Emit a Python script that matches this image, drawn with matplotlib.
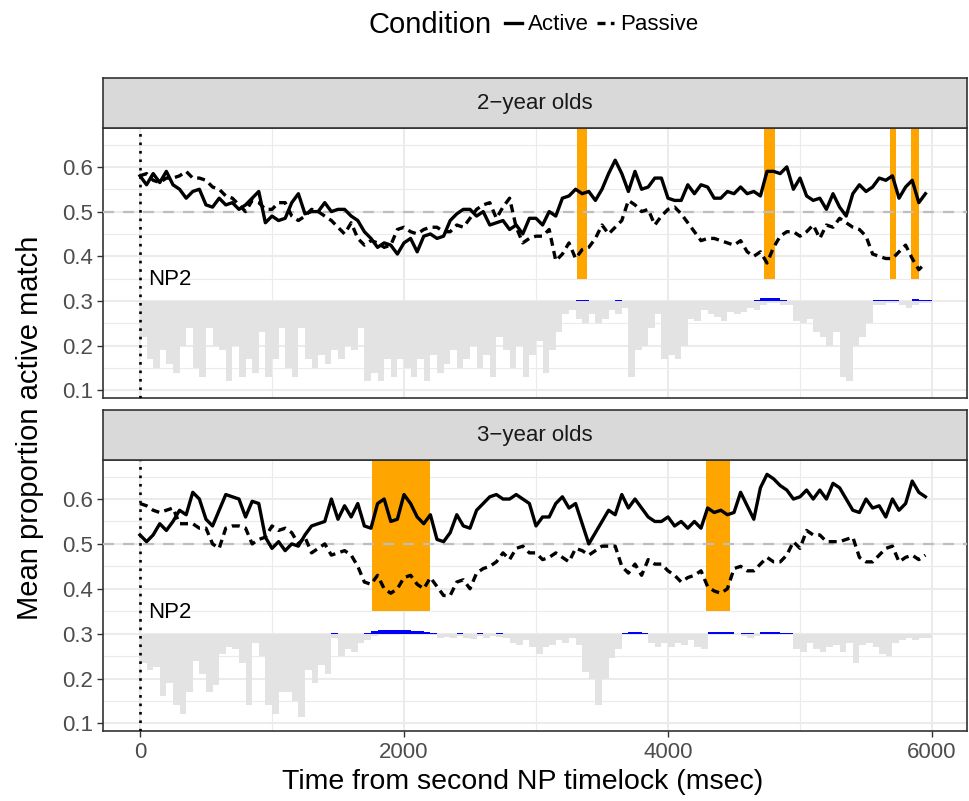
import numpy as np
import matplotlib.pyplot as plt
from matplotlib.lines import Line2D

plt.rcParams['font.family'] = ['Liberation Sans', 'DejaVu Sans']

# time bins (msec), one value every 50 ms
times = np.arange(0, 6000, 50)

# 2-year olds
active2 = [0.58, 0.56, 0.585, 0.565, 0.59, 0.56, 0.55, 0.53, 0.545, 0.55,
           0.515, 0.51, 0.53, 0.515, 0.52, 0.505, 0.515, 0.53, 0.545, 0.475,
           0.49, 0.48, 0.485, 0.52, 0.54, 0.495, 0.5, 0.5, 0.52, 0.5,
           0.505, 0.505, 0.49, 0.48, 0.455, 0.44, 0.42, 0.43, 0.425, 0.405,
           0.43, 0.44, 0.41, 0.445, 0.45, 0.44, 0.445, 0.48, 0.495, 0.505,
           0.505, 0.49, 0.5, 0.47, 0.475, 0.48, 0.46, 0.47, 0.45, 0.485,
           0.485, 0.47, 0.5, 0.49, 0.53, 0.535, 0.55, 0.54, 0.545, 0.525,
           0.55, 0.585, 0.615, 0.585, 0.545, 0.59, 0.55, 0.555, 0.575, 0.575,
           0.53, 0.525, 0.525, 0.56, 0.54, 0.56, 0.555, 0.53, 0.53, 0.545,
           0.54, 0.555, 0.54, 0.545, 0.535, 0.59, 0.59, 0.585, 0.6, 0.55,
           0.575, 0.535, 0.525, 0.53, 0.505, 0.54, 0.51, 0.49, 0.54, 0.56,
           0.545, 0.555, 0.575, 0.57, 0.58, 0.53, 0.555, 0.57, 0.52, 0.54]
passive2 = [0.58, 0.585, 0.57, 0.565, 0.575, 0.575, 0.58, 0.59, 0.575, 0.575,
            0.57, 0.555, 0.55, 0.535, 0.53, 0.515, 0.5, 0.525, 0.52, 0.505,
            0.505, 0.52, 0.52, 0.49, 0.48, 0.49, 0.505, 0.5, 0.49, 0.48,
            0.465, 0.45, 0.475, 0.44, 0.425, 0.435, 0.43, 0.42, 0.425, 0.46,
            0.465, 0.455, 0.45, 0.46, 0.465, 0.465, 0.455, 0.455, 0.47, 0.465,
            0.485, 0.505, 0.515, 0.52, 0.485, 0.51, 0.53, 0.465, 0.43, 0.44,
            0.445, 0.445, 0.46, 0.39, 0.405, 0.43, 0.395, 0.415, 0.42, 0.44,
            0.47, 0.45, 0.465, 0.48, 0.525, 0.515, 0.5, 0.505, 0.47, 0.49,
            0.505, 0.51, 0.495, 0.475, 0.455, 0.435, 0.44, 0.44, 0.435, 0.43,
            0.425, 0.435, 0.41, 0.4, 0.41, 0.385, 0.42, 0.445, 0.455, 0.455,
            0.445, 0.455, 0.47, 0.44, 0.47, 0.465, 0.485, 0.475, 0.465, 0.46,
            0.445, 0.405, 0.4, 0.395, 0.395, 0.41, 0.425, 0.395, 0.37, 0.385]
gray2 = [0.22, 0.17, 0.15, 0.19, 0.16, 0.14, 0.2, 0.24, 0.15, 0.13,
         0.24, 0.2, 0.19, 0.12, 0.2, 0.13, 0.17, 0.14, 0.23, 0.13,
         0.17, 0.24, 0.15, 0.13, 0.24, 0.17, 0.15, 0.18, 0.16, 0.19,
         0.17, 0.2, 0.19, 0.24, 0.12, 0.14, 0.12, 0.17, 0.13, 0.17,
         0.15, 0.13, 0.17, 0.12, 0.18, 0.14, 0.16, 0.19, 0.15, 0.17,
         0.2, 0.15, 0.18, 0.13, 0.22, 0.19, 0.15, 0.2, 0.13, 0.18,
         0.21, 0.14, 0.19, 0.23, 0.27, 0.28, 0.26, 0.25, 0.27, 0.25,
         0.26, 0.28, 0.27, 0.285, 0.13, 0.19, 0.2, 0.24, 0.27, 0.17,
         0.18, 0.17, 0.2, 0.26, 0.255, 0.28, 0.27, 0.265, 0.255, 0.275,
         0.27, 0.275, 0.285, 0.28, 0.29, 0.295, 0.295, 0.29, 0.29, 0.255,
         0.25, 0.26, 0.23, 0.22, 0.2, 0.23, 0.13, 0.12, 0.2, 0.22,
         0.25, 0.29, 0.29, 0.295, 0.295, 0.29, 0.285, 0.29, 0.295, 0.295]
blue2_t = [3300, 3350, 3600, 4650, 4700, 4750, 4800, 4850, 5550, 5600, 5650, 5700, 5850, 5900, 5950]
blue2_h = [0.003, 0.002, 0.003, 0.002, 0.006, 0.007, 0.007, 0.002, 0.002, 0.003, 0.003, 0.002, 0.004, 0.003, 0.002]
orange2 = [(3311, 3386), (4727, 4811), (5682, 5727), (5841, 5902)]

# 3-year olds
active3 = [0.52, 0.505, 0.52, 0.545, 0.53, 0.55, 0.575, 0.565, 0.615, 0.6,
           0.555, 0.54, 0.575, 0.61, 0.605, 0.6, 0.56, 0.595, 0.59, 0.515,
           0.49, 0.505, 0.485, 0.5, 0.495, 0.52, 0.54, 0.545, 0.55, 0.6,
           0.555, 0.585, 0.56, 0.59, 0.54, 0.535, 0.59, 0.6, 0.55, 0.555,
           0.61, 0.59, 0.56, 0.545, 0.565, 0.51, 0.505, 0.525, 0.565, 0.54,
           0.535, 0.575, 0.59, 0.605, 0.61, 0.6, 0.6, 0.61, 0.6, 0.59,
           0.54, 0.56, 0.56, 0.59, 0.605, 0.58, 0.59, 0.545, 0.5, 0.525,
           0.55, 0.575, 0.565, 0.61, 0.58, 0.6, 0.58, 0.56, 0.55, 0.55,
           0.56, 0.54, 0.55, 0.535, 0.55, 0.535, 0.58, 0.57, 0.575, 0.565,
           0.57, 0.615, 0.585, 0.555, 0.625, 0.655, 0.645, 0.63, 0.62, 0.6,
           0.605, 0.62, 0.6, 0.62, 0.6, 0.635, 0.625, 0.6, 0.575, 0.57,
           0.6, 0.58, 0.585, 0.56, 0.6, 0.575, 0.59, 0.64, 0.615, 0.605]
passive3 = [0.59, 0.585, 0.575, 0.57, 0.575, 0.58, 0.545, 0.545, 0.545, 0.535,
            0.535, 0.5, 0.49, 0.535, 0.54, 0.54, 0.535, 0.5, 0.51, 0.515,
            0.54, 0.53, 0.535, 0.525, 0.5, 0.515, 0.48, 0.49, 0.5, 0.475,
            0.48, 0.485, 0.475, 0.45, 0.415, 0.41, 0.43, 0.4, 0.39, 0.4,
            0.425, 0.43, 0.41, 0.4, 0.425, 0.405, 0.385, 0.385, 0.415, 0.42,
            0.4, 0.435, 0.445, 0.45, 0.46, 0.48, 0.465, 0.49, 0.495, 0.48,
            0.48, 0.465, 0.47, 0.48, 0.47, 0.46, 0.49, 0.485, 0.475, 0.485,
            0.495, 0.495, 0.495, 0.45, 0.435, 0.455, 0.43, 0.465, 0.455, 0.455,
            0.44, 0.43, 0.415, 0.425, 0.43, 0.44, 0.405, 0.395, 0.39, 0.4,
            0.445, 0.45, 0.44, 0.44, 0.455, 0.47, 0.46, 0.46, 0.475, 0.505,
            0.49, 0.53, 0.52, 0.52, 0.505, 0.505, 0.505, 0.51, 0.515, 0.47,
            0.46, 0.46, 0.475, 0.49, 0.495, 0.46, 0.47, 0.475, 0.465, 0.475]
gray3 = [0.235, 0.22, 0.225, 0.16, 0.19, 0.14, 0.12, 0.17, 0.24, 0.21,
         0.17, 0.185, 0.255, 0.27, 0.265, 0.235, 0.14, 0.28, 0.25, 0.14,
         0.12, 0.17, 0.17, 0.15, 0.115, 0.22, 0.19, 0.23, 0.21, 0.29,
         0.25, 0.265, 0.26, 0.28, 0.285, 0.295, 0.3, 0.3, 0.3, 0.3,
         0.3, 0.3, 0.3, 0.3, 0.298, 0.29, 0.292, 0.29, 0.295, 0.29,
         0.288, 0.295, 0.29, 0.295, 0.293, 0.29, 0.28, 0.275, 0.285, 0.27,
         0.255, 0.27, 0.275, 0.285, 0.28, 0.29, 0.275, 0.215, 0.2, 0.14,
         0.2, 0.245, 0.265, 0.3, 0.3, 0.3, 0.3, 0.28, 0.27, 0.28,
         0.27, 0.28, 0.275, 0.285, 0.27, 0.265, 0.3, 0.3, 0.3, 0.3,
         0.3, 0.295, 0.29, 0.295, 0.3, 0.3, 0.3, 0.3, 0.3, 0.265,
         0.26, 0.28, 0.265, 0.26, 0.27, 0.275, 0.26, 0.28, 0.235, 0.275,
         0.28, 0.27, 0.255, 0.25, 0.28, 0.285, 0.29, 0.285, 0.29, 0.29]
blue3_t = [1450, 1700, 1750, 1800, 1850, 1900, 1950, 2000, 2050, 2100, 2150, 2200, 2400, 2550, 2700,
           3650, 3700, 3750, 3800, 4300, 4350, 4400, 4450, 4550, 4600, 4700, 4750, 4800, 4850, 4900]
blue3_h = [0.001, 0.002, 0.006, 0.007, 0.008, 0.008, 0.008, 0.007, 0.006, 0.005, 0.003, 0.002, 0.001, 0.002, 0.001,
           0.002, 0.003, 0.003, 0.002, 0.004, 0.004, 0.004, 0.003, 0.002, 0.002, 0.003, 0.003, 0.003, 0.002, 0.002]
orange3 = [(1758, 2197), (4288, 4470)]

W, H = 969, 801
fig = plt.figure(figsize=(W / 100, H / 100), dpi=100)

xlim = (-280, 6265)
ylim = (0.083, 0.687)

panels = [
    ('2\u2212year olds', active2, passive2, gray2, blue2_t, blue2_h, orange2, 128, 398, 78),
    ('3\u2212year olds', active3, passive3, gray3, blue3_t, blue3_h, orange3, 460, 731, 410),
]

for i, (label, act, pas, gray, bt, bh, spans, top, bottom, stop) in enumerate(panels):
    ax = fig.add_axes([103 / W, 1 - bottom / H, 864 / W, (bottom - top) / H])
    ax.set_xlim(*xlim)
    ax.set_ylim(*ylim)
    ax.set_xticks([0, 2000, 4000, 6000])
    ax.set_xticks([1000, 3000, 5000], minor=True)
    ax.set_yticks([0.1, 0.2, 0.3, 0.4, 0.5, 0.6])
    ax.set_yticks([0.15, 0.25, 0.35, 0.45, 0.55, 0.65], minor=True)
    ax.grid(True, which='major', color='#EBEBEB', lw=1.5, zorder=0)
    ax.grid(True, which='minor', color='#EBEBEB', lw=0.8, zorder=0)
    ax.set_axisbelow(True)

    # p-value style bars hanging below 0.3
    heights = np.array(gray) - 0.3
    ax.bar(times, heights, bottom=0.3, width=50, align='edge', color='#E3E3E3', lw=0, zorder=1)
    ax.bar(bt, bh, bottom=0.3, width=50, align='edge', color='blue', lw=0, zorder=1.5)

    for s0, s1 in spans:
        ax.fill_between([s0, s1], 0.35, ylim[1], color='#FFA500', lw=0, zorder=2)

    ax.axhline(0.5, color='#BEBEBE', lw=1.6, ls=(0, (5, 4)), zorder=3)
    ax.axvline(0, color='black', lw=1.9, ls=(0, (1, 2.2)), zorder=3)
    ax.text(60, 0.347, 'NP2', fontsize=16, va='center', ha='left', zorder=4)

    ax.plot(times, act, color='black', lw=2.4, solid_joinstyle='round', zorder=5)
    ax.plot(times, pas, color='black', lw=2.4, ls=(0, (2.4, 1.6)), zorder=5)

    for sp in ax.spines.values():
        sp.set_color('#333333')
        sp.set_linewidth(1.2)
    ax.tick_params(axis='y', which='major', length=4, width=1, color='#333333',
                   labelsize=16, labelcolor='#4D4D4D', pad=3)
    ax.tick_params(which='minor', length=0)
    if i == 0:
        ax.tick_params(axis='x', which='major', length=0, labelbottom=False)
    else:
        ax.tick_params(axis='x', which='major', length=4, width=1, color='#333333',
                       labelsize=16, labelcolor='#4D4D4D', pad=4)

    # facet strip
    sax = fig.add_axes([103 / W, 1 - top / H, 864 / W, (top - stop) / H])
    sax.set_facecolor('#D9D9D9')
    sax.set_xticks([])
    sax.set_yticks([])
    for sp in sax.spines.values():
        sp.set_color('#333333')
        sp.set_linewidth(1.2)
    sax.text(0.5, 0.5, label, transform=sax.transAxes, ha='center', va='center',
             fontsize=16, color='#1A1A1A')

fig.text(523 / W, 1 - 782 / H, 'Time from second NP timelock (msec)', ha='center', va='center', fontsize=20.5)
fig.text(30 / W, 1 - 428 / H, 'Mean proportion active match', ha='center', va='center',
         rotation=90, fontsize=21)

# legend at the top
fig.text(492 / W, 1 - 25 / H, 'Condition', ha='right', va='center', fontsize=21)
handles = [Line2D([], [], color='black', lw=2.4),
           Line2D([], [], color='black', lw=2.4, ls=(0, (2.4, 1.6)))]
fig.legend(handles, ['Active', 'Passive'], loc='center left', bbox_to_anchor=(505 / W, 1 - 25 / H),
           ncol=2, frameon=False, fontsize=16, handlelength=0.75, handletextpad=0.3,
           columnspacing=0.35, borderaxespad=0, borderpad=0)

fig.savefig('out.png', dpi=100)
